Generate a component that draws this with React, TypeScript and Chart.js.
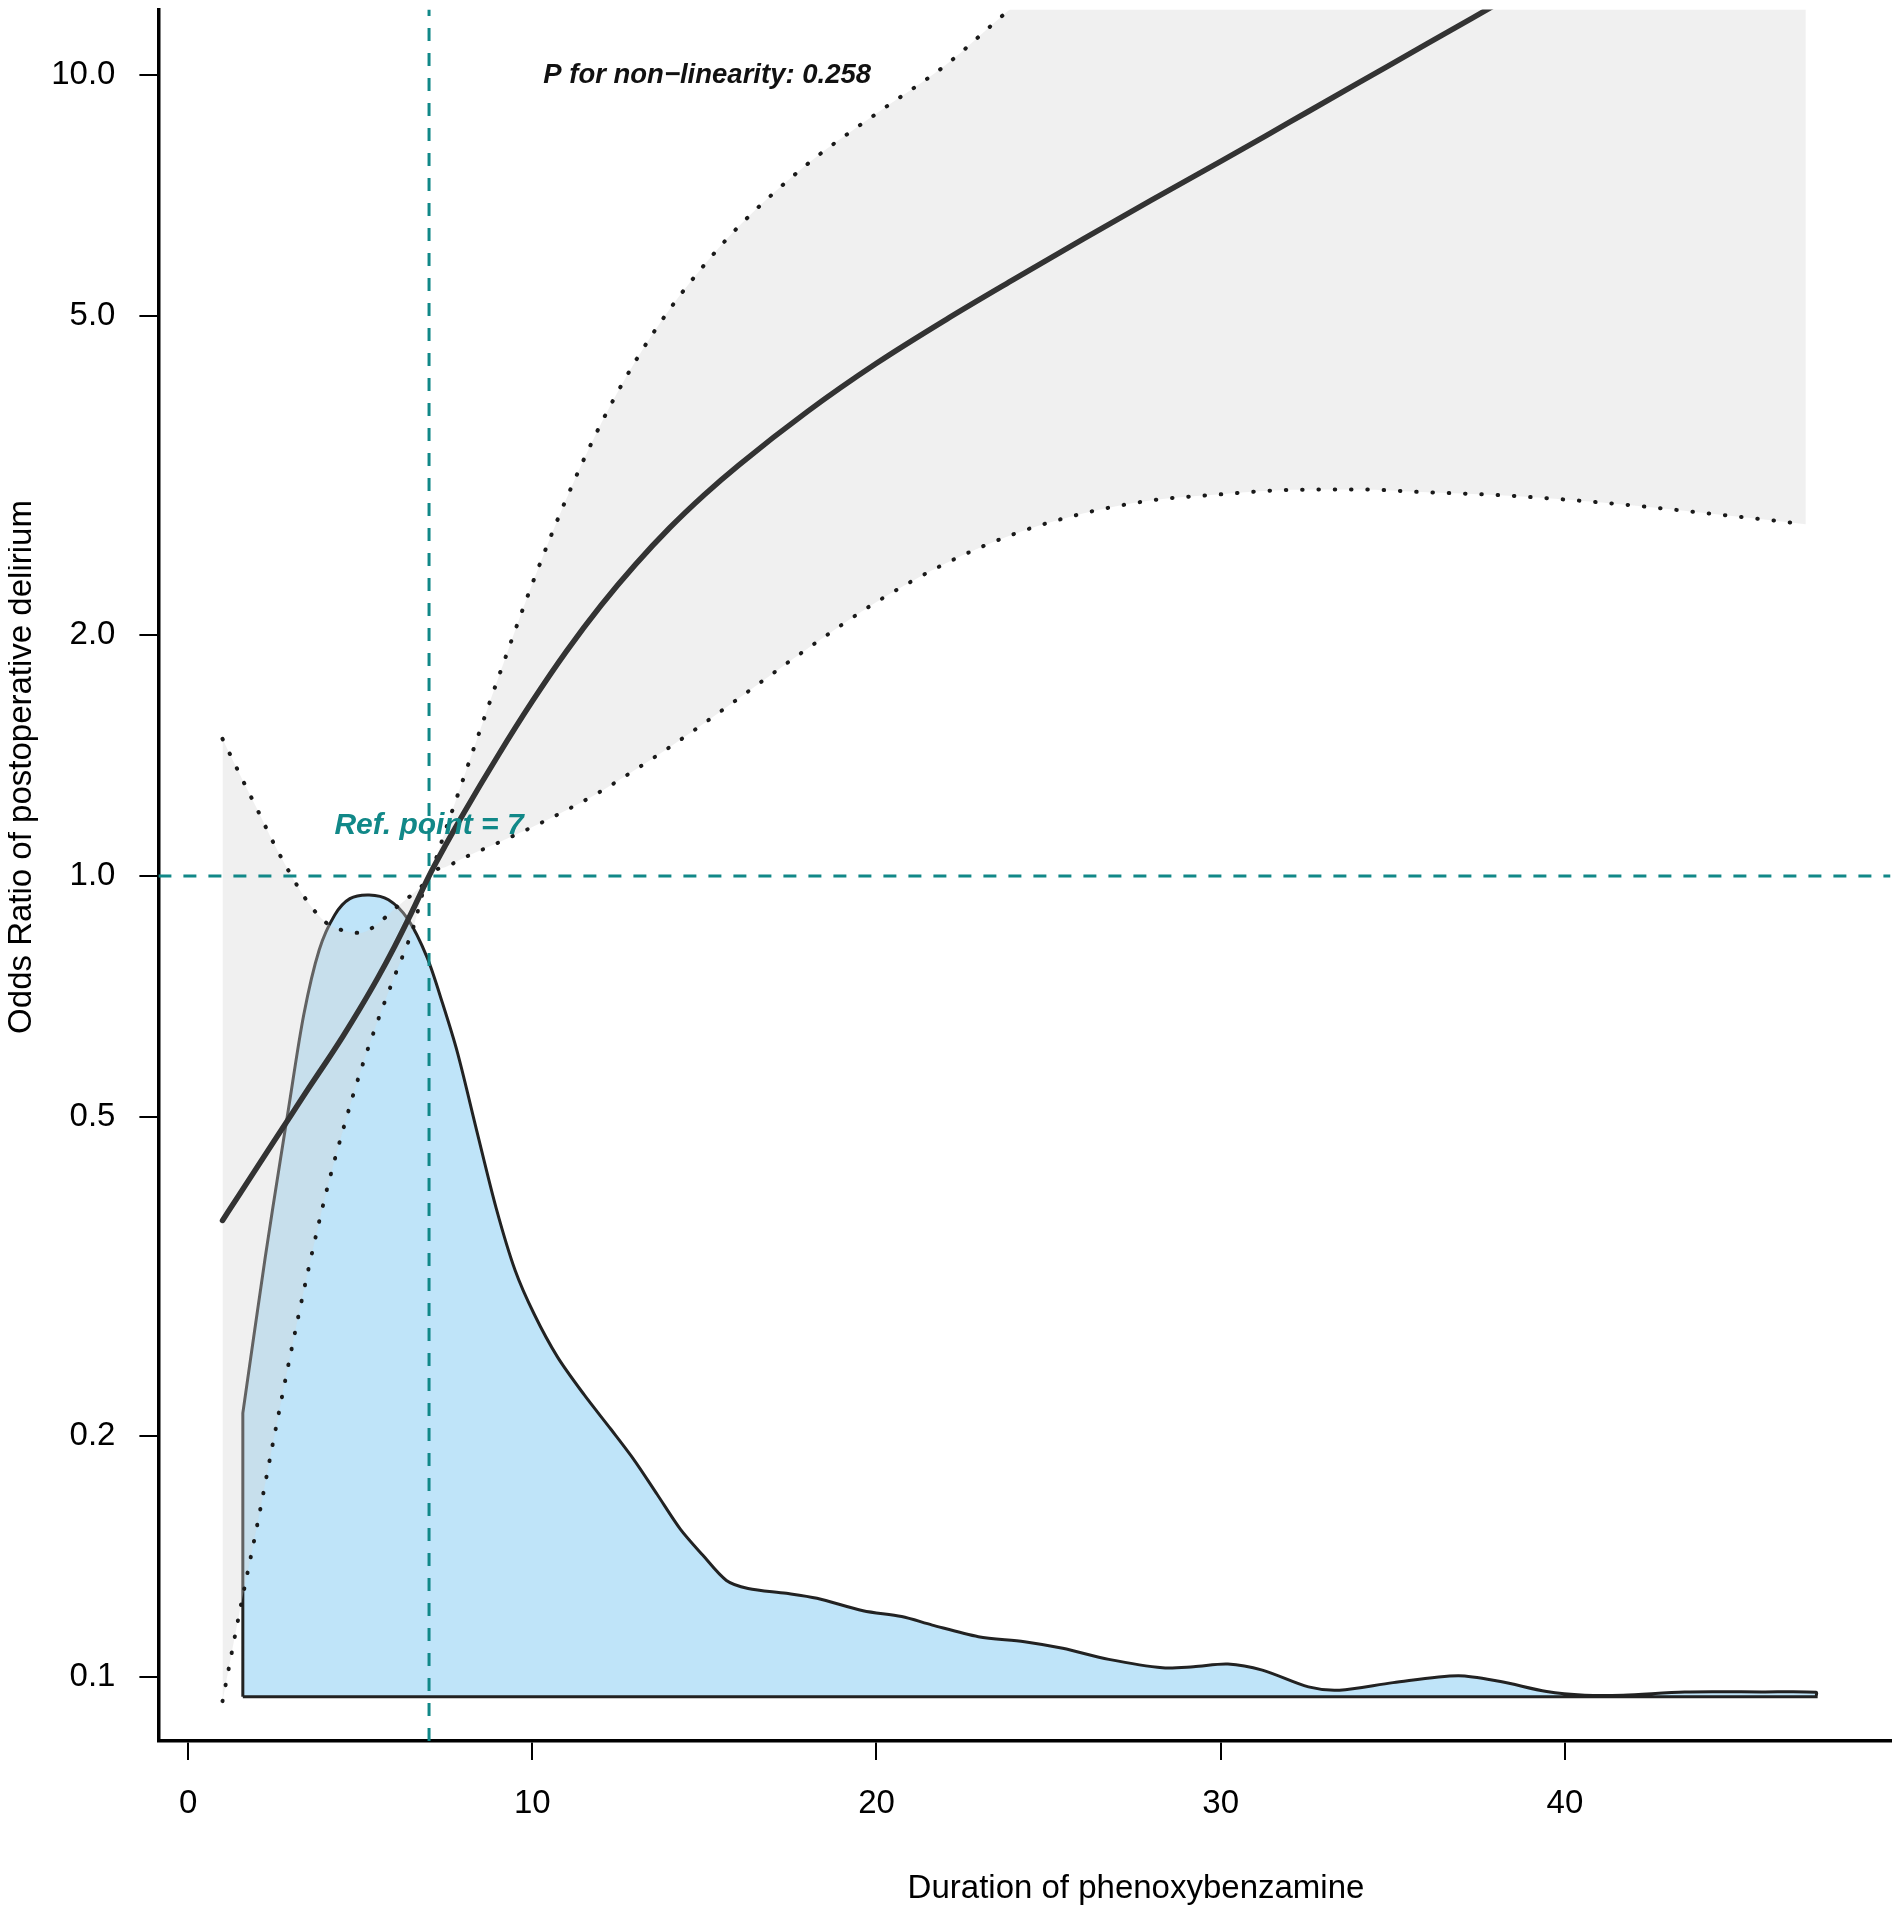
import React, { useEffect, useRef } from 'react';
import { Chart, registerables, Plugin } from 'chart.js';

Chart.register(...registerables);

// x grid shared by the spline estimate and its confidence band
const durationGrid = [
  1, 1.5, 2, 2.5, 3, 3.5, 4, 4.5, 5, 5.5, 6, 6.5, 7, 7.5, 8, 9, 10, 11, 12, 13, 14, 15, 16,
  18, 20, 22, 24, 26, 28, 30, 32, 34, 36, 38, 40, 42, 44, 46, 47,
];
const oddsRatio = [
  0.3715, 0.4009, 0.4325, 0.4667, 0.5035, 0.5433, 0.5848, 0.631, 0.6839, 0.7447, 0.8166, 0.9016,
  1.0, 1.0965, 1.1967, 1.4125, 1.652, 1.9099, 2.1777, 2.4491, 2.7227, 2.9923, 3.2584, 3.8019,
  4.3652, 4.9431, 5.559, 6.2373, 6.9823, 7.7983, 8.7297, 9.7724, 10.94, 12.246,
  null, null, null, null, null,
];
const ciUpper = [
  1.483, 1.34, 1.213, 1.096, 1.001, 0.925, 0.875, 0.855, 0.849, 0.871, 0.91, 0.948, 1.0, 1.148,
  1.324, 1.762, 2.317, 2.965, 3.673, 4.395, 5.105, 5.794, 6.471, 7.745, 8.95, 10.28, 12.2, 14.2,
  16.8, 20.3, 25.0, 31.4, 40.1, 50.6, 64, 82, 105, 134, 152,
];
const ciLower = [
  0.0933, 0.1208, 0.1542, 0.1995, 0.2559, 0.3236, 0.4009, 0.4819, 0.5689, 0.6577, 0.7499, 0.8511,
  1.0, 1.027, 1.053, 1.1, 1.151, 1.209, 1.276, 1.358, 1.449, 1.552, 1.667, 1.923, 2.198, 2.455,
  2.673, 2.835, 2.944, 2.995, 3.034, 3.038, 3.013, 2.99, 2.951, 2.901, 2.841, 2.78, 2.748,
];

// density outline of the exposure, drawn as a closed shape in odds-ratio units
// (corner points are listed twice so the curve keeps a sharp edge there)
const densityX = [
  1.59, 1.59, 1.59, 2.24, 2.69, 2.91, 3.36, 3.81, 4.26, 4.7, 5.26, 5.82, 6.38, 6.94, 7.39, 7.83,
  8.39, 8.95, 9.5, 10.06, 10.73, 11.51, 12.29, 12.96, 13.63, 14.3, 14.95, 15.64, 16.27, 17.38,
  18.27, 19.61, 20.73, 21.62, 22.96, 24.3, 25.41, 26.75, 28.31, 29.21, 30.21, 31.21, 32.55, 33.45,
  35.01, 36.9, 38.13, 39.47, 40.58, 41.69, 43.48, 45.71, 47.3, 47.3, 47.3, 1.59,
];
const densityY = [
  0.0945, 0.2135, 0.2135, 0.334, 0.445, 0.51, 0.671, 0.809, 0.894, 0.937, 0.947, 0.934, 0.884,
  0.792, 0.694, 0.601, 0.48, 0.385, 0.322, 0.2835, 0.251, 0.225, 0.2037, 0.1866, 0.169, 0.153,
  0.142, 0.132, 0.129, 0.1272, 0.1254, 0.121, 0.119, 0.1161, 0.1123, 0.1107, 0.1086, 0.1052,
  0.1027, 0.103, 0.1038, 0.102, 0.0972, 0.0963, 0.0984, 0.1004, 0.0987, 0.0959, 0.0949, 0.0949,
  0.0958, 0.0958, 0.0957, 0.0945, 0.0945, 0.0945,
];

const xTicks = [0, 10, 20, 30, 40];
const yTicks = [0.1, 0.2, 0.5, 1, 2, 5, 10];

const REF_POINT = 7;
const REF_OR = 1;
const P_TEXT = 'P for non\u2212linearity: 0.258';
const P_TEXT_AT = { x: 15.08, y: 10 };
const REF_TEXT = 'Ref. point = 7';
const REF_TEXT_AT = { x: 7, y: 1.155 };

const X_MIN = -0.863;
const X_MAX = 49.46;
const Y_MIN = 0.0832;
const Y_MAX = 12.07;

const FONT = '"Liberation Sans", Arial, Helvetica, sans-serif';
const TEAL = '#118888';

const labelsPlugin: Plugin<'line'> = {
  id: 'rcsLabels',
  afterDatasetsDraw(chart) {
    const { ctx, scales } = chart;
    const x = scales.x;
    const y = scales.y;
    ctx.save();
    ctx.textAlign = 'center';
    ctx.textBaseline = 'middle';
    ctx.fillStyle = '#111';
    ctx.font = `italic bold 27.5px ${FONT}`;
    ctx.fillText(P_TEXT, x.getPixelForValue(P_TEXT_AT.x), y.getPixelForValue(P_TEXT_AT.y));
    ctx.fillStyle = TEAL;
    ctx.font = `italic bold 30px ${FONT}`;
    ctx.fillText(REF_TEXT, x.getPixelForValue(REF_TEXT_AT.x), y.getPixelForValue(REF_TEXT_AT.y));

    // axis titles (the original figure is cropped, so they sit off-centre)
    ctx.fillStyle = '#000';
    ctx.font = `33px ${FONT}`;
    ctx.fillText('Duration of phenoxybenzamine', 1128, 1881);
    ctx.translate(14, 759);
    ctx.rotate(-Math.PI / 2);
    ctx.fillText('Odds Ratio of postoperative delirium', 0, 0);
    ctx.restore();
  },
};

const App: React.FC = () => {
  const canvasRef = useRef<HTMLCanvasElement>(null);

  useEffect(() => {
    const ctx = canvasRef.current!.getContext('2d')!;
    const pts = (ys: (number | null)[]) => durationGrid.map((x, i) => ({ x, y: ys[i] }));
    const dotted = {
      borderColor: '#1a1a1a',
      borderWidth: 4,
      borderDash: [0.5, 15.8],
      borderCapStyle: 'round' as const,
      cubicInterpolationMode: 'monotone' as const,
      pointRadius: 0,
      clip: 0,
    };
    const tickGrid = {
      drawOnChartArea: false,
      drawTicks: true,
      tickLength: 19,
      tickWidth: 2,
      tickColor: '#000',
      lineWidth: 2,
    };

    const chart = new Chart(ctx, {
      type: 'line',
      data: {
        datasets: [
          {
            // 0: density
            data: densityX.map((x, i) => ({ x, y: densityY[i] })),
            borderColor: '#222',
            borderWidth: 3,
            backgroundColor: '#BFE4F9',
            fill: 'shape',
            tension: 0.3,
            pointRadius: 0,
            clip: 0,
            order: 7,
          },
          {
            // 1: upper confidence limit, band filled down to the lower limit
            ...dotted,
            data: pts(ciUpper),
            backgroundColor: 'rgba(213,213,213,0.36)',
            fill: 2,
            order: 6,
          },
          {
            // 2: lower confidence limit
            ...dotted,
            data: pts(ciLower),
            fill: false,
            order: 5,
          },
          {
            data: [
              { x: REF_POINT, y: Y_MIN },
              { x: REF_POINT, y: Y_MAX },
            ],
            borderColor: TEAL,
            borderWidth: 3,
            borderDash: [13, 12],
            fill: false,
            pointRadius: 0,
            clip: 0,
            order: 4,
          },
          {
            data: [
              { x: X_MIN, y: REF_OR },
              { x: X_MAX, y: REF_OR },
            ],
            borderColor: TEAL,
            borderWidth: 3,
            borderDash: [13, 12],
            fill: false,
            pointRadius: 0,
            clip: 0,
            order: 4,
          },
          {
            data: pts(oddsRatio),
            borderColor: '#333',
            borderWidth: 5.5,
            borderCapStyle: 'round',
            fill: false,
            cubicInterpolationMode: 'monotone',
            pointRadius: 0,
            clip: 0,
            order: 3,
          },
        ],
      },
      options: {
        responsive: false,
        animation: false,
        events: [],
        layout: { padding: { left: 0, top: 1.5, right: 3.5, bottom: 0 } },
        plugins: {
          legend: { display: false },
          tooltip: { enabled: false },
          title: { display: false },
        },
        scales: {
          x: {
            type: 'linear',
            min: X_MIN,
            max: X_MAX,
            afterBuildTicks: (s) => {
              s.ticks = xTicks.map((value) => ({ value }));
            },
            afterFit: (s) => {
              s.height = 167;
              s.paddingLeft = 0;
              s.paddingRight = 0;
            },
            ticks: {
              autoSkip: false,
              maxRotation: 0,
              padding: 24,
              color: '#000',
              font: { family: FONT, size: 33 },
              callback: (v) => String(v),
            },
            grid: tickGrid,
            border: { display: true, color: '#000', width: 3.5 },
          },
          y: {
            type: 'logarithmic',
            min: Y_MIN,
            max: Y_MAX,
            afterBuildTicks: (s) => {
              s.ticks = yTicks.map((value) => ({ value }));
            },
            afterFit: (s) => {
              s.width = 150.4;
              s.paddingTop = 0;
              s.paddingBottom = 0;
            },
            ticks: {
              autoSkip: false,
              padding: 24,
              color: '#000',
              font: { family: FONT, size: 33 },
              callback: (v) => Number(v).toFixed(1),
            },
            grid: tickGrid,
            border: { display: true, color: '#000', width: 3.5 },
          },
        },
      },
      plugins: [labelsPlugin],
    });

    return () => {
      chart.destroy();
    };
  }, []);

  return <canvas ref={canvasRef} width={1886} height={1900} style={{ display: 'block' }} />;
};

export default App;
